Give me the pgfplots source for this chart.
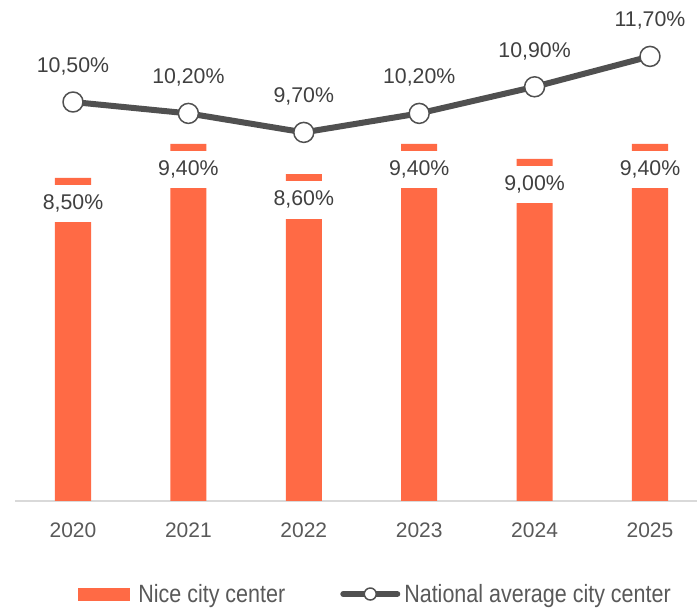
\documentclass[border=0pt]{standalone}
\usepackage{fontspec}
\setmainfont{Liberation Sans}
\newfontfamily\legfont[FakeStretch=0.86]{Liberation Sans}
\usepackage{pgfplots}
\pgfplotsset{compat=1.18}
\definecolor{barorange}{HTML}{FF6A45}
\definecolor{linegray}{HTML}{505050}
\definecolor{labgray}{HTML}{404040}
\definecolor{tickgray}{HTML}{595959}
\definecolor{basegray}{HTML}{D9D9D9}
\begin{document}
\begin{tikzpicture}
\useasboundingbox (0,0) rectangle (697pt,608pt);
\begin{axis}[
  at={(15.3pt,107pt)}, anchor=south west,
  scale only axis, width=692.4pt, height=494pt,
  xmin=-0.5, xmax=5.5, ymin=0, ymax=13,
  clip=false,
  axis x line*=bottom, axis y line=none,
  x axis line style={draw=basegray, line width=1.5pt},
  xtick={0,1,2,3,4,5},
  xticklabels={2020,2021,2022,2023,2024,2025},
  major tick length=0pt,
  ytick=\empty,
  /pgf/number format/assume math mode=true,
  xticklabel style={anchor=base, yshift=-37pt, font=\fontsize{21}{25}\selectfont, text=tickgray, inner sep=0pt},
  legend style={at={(0.5203,-0.1883)}, anchor=center, draw=none, fill=none,
    legend columns=2, font=\legfont\fontsize{25}{30}\selectfont, text=tickgray,
    /tikz/every even column/.append style={column sep=53pt},
    inner sep=0pt},
  legend cell align=left,
]
\addplot[ybar, bar width=36pt, fill=barorange, draw=none,
  nodes near coords={\pgfmathprintnumber[fixed,fixed zerofill,precision=2,use comma]{\pgfplotspointmeta}\%},
  every node near coord/.append style={anchor=north, yshift=-6.6pt, fill=white,
    minimum height=37.7pt, inner xsep=2pt, text=labgray, font=\fontsize{21.3}{25}\selectfont},
  legend image code/.code={\fill[barorange] (0pt,-6.5pt) rectangle (52pt,6.5pt); \path (58pt,0);}
] coordinates {(0,8.5) (1,9.4) (2,8.6) (3,9.4) (4,9.0) (5,9.4)};
\addlegendentry{Nice city center}
\addplot[color=linegray, line width=6pt, line join=round,
  mark=*, mark size=10pt, mark options={fill=white, draw=linegray, line width=1.5pt},
  nodes near coords={\pgfmathprintnumber[fixed,fixed zerofill,precision=2,use comma]{\pgfplotspointmeta}\%},
  every node near coord/.append style={anchor=base, yshift=29.5pt, text=labgray, font=\fontsize{21.3}{25}\selectfont, inner sep=0pt},
  legend image code/.code={\draw[linegray, line width=6pt, line cap=round] (2pt,0) -- (56pt,0);
     \draw[linegray, fill=white, line width=1.5pt] (29pt,0) circle (6pt); \path (58pt,0);}
] coordinates {(0,10.5) (1,10.2) (2,9.7) (3,10.2) (4,10.9) (5,11.7)};
\addlegendentry{National average city center}
\end{axis}
\end{tikzpicture}
\end{document}
